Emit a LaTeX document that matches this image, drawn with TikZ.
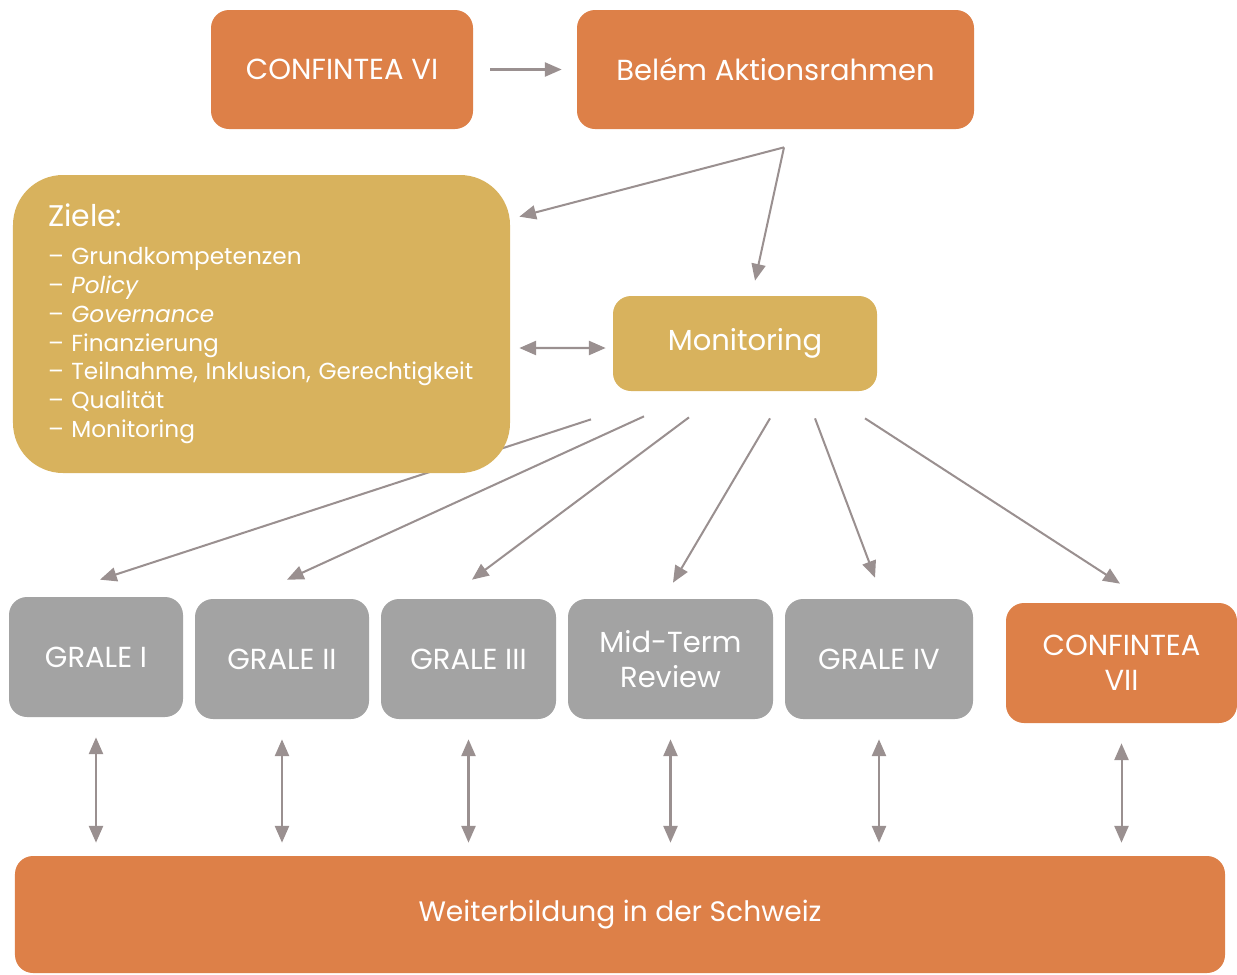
\documentclass[tikz,border=0pt]{standalone}
\usepackage{fontspec}
\setmainfont{Poppins}
\usetikzlibrary{positioning,arrows.meta}

\definecolor{orangebg}{HTML}{DD8048}
\definecolor{goldbg}{HTML}{D8B25D}
\definecolor{graybg}{HTML}{A3A3A3}
\definecolor{arrowgray}{HTML}{9A9090}

\tikzset{
  box/.style = {shape = rectangle, rounded corners = 0.36cm, text = white, align = center, inner sep = 0pt, font = \fontsize{16.5}{20}\selectfont},
  orangebox/.style = {box, fill = orangebg},
  goldbox/.style = {box, fill = goldbg},
  graybox/.style = {box, fill = graybg, minimum height = 2.4cm},
  tip/.tip = {Triangle[length = 9.5pt, width = 8pt]},
  arr/.style = {draw = arrowgray, line width = 1.15pt, -tip},
  darr/.style = {draw = arrowgray, line width = 1.15pt, tip-tip}
}

\begin{document}
\begin{tikzpicture}
\useasboundingbox (0,0) rectangle (24.74,-19.48);

% top row
\node[orangebox, minimum width = 5.24cm, minimum height = 2.38cm] (cvi) at (6.84,-1.39) {CONFINTEA VI};
\node[orangebox, minimum width = 7.94cm, minimum height = 2.38cm] (belem) at (15.51,-1.39) {Belém Aktionsrahmen};
\node[goldbox, minimum width = 5.28cm, minimum height = 1.9cm] (mon) at (14.9,-6.87) {Monitoring};

% reports
\node[graybox, minimum width = 3.48cm] (g1) at (1.92,-13.14) {GRALE I};
\node[graybox, minimum width = 3.48cm] (g2) at (5.64,-13.18) {GRALE II};
\node[graybox, minimum width = 3.5cm] (g3) at (9.37,-13.18) {GRALE III};
\node[graybox, minimum width = 4.1cm] (mtr) at (13.41,-13.18) {Mid-Term\\Review};
\node[graybox, minimum width = 3.76cm] (g4) at (17.58,-13.18) {GRALE IV};
\node[orangebox, minimum width = 4.62cm, minimum height = 2.4cm] (c7) at (22.43,-13.26) {CONFINTEA\\VII};

\node[orangebox, minimum width = 24.2cm, minimum height = 2.34cm, font = \fontsize{16}{20}\selectfont] (wb) at (12.4,-18.29) {Weiterbildung in der Schweiz};

% arrows out of monitoring (under the goals box)
\foreach \name/\dx/\dy/\ex/\ey in {g1/-3.08/-0.56/0.08/0.34, g2/-2.02/-0.5/0.1/0.38, g3/-1.12/-0.52/0.07/0.38,
                                    mtr/0.5/-0.54/0.05/0.32, g4/1.4/-0.54/-0.08/0.42, c7/2.4/-0.54/-0.03/0.38}{
  \coordinate (m-\name) at ([shift={(\dx,\dy)}]mon.south);
  \draw[arr] (m-\name) -- ([shift={(\ex,\ey)}]\name.north);
}

% goals
\node[goldbox, rounded corners = 1cm, minimum width = 9.94cm, minimum height = 5.96cm, text width = 8.54cm, align = left,
      font = \fontsize{13.2}{16.4}\selectfont] (ziele) at (5.23,-6.48)
  {{\fontsize{17}{20}\selectfont Ziele:}\\[5pt]
   – Grundkompetenzen\\
   – \textit{Policy}\\
   – \textit{Governance}\\
   – Finanzierung\\
   – Teilnahme, Inklusion, Gerechtigkeit\\
   – Qualität\\
   – Monitoring};

\draw[arr] ([xshift = 0.34cm]cvi.east) -- ([xshift = -0.3cm]belem.west);
\coordinate (fork) at ([shift={(0.17,-0.36)}]belem.south);
\draw[arr] (fork) -- ([shift={(0.18,-0.84)}]ziele.north east);
\draw[arr] (fork) -- ([shift={(0.2,0.3)}]mon.north);
\draw[darr] ([shift={(0.18,-0.48)}]ziele.east) -- ([shift={(-0.14,-0.09)}]mon.west);

\foreach \name in {g1, g2, g3, mtr, g4, c7}
  \draw[darr] ([yshift = -0.4cm]\name.south) -- ([yshift = 0.26cm]\name.south |- wb.north);
\end{tikzpicture}
\end{document}
